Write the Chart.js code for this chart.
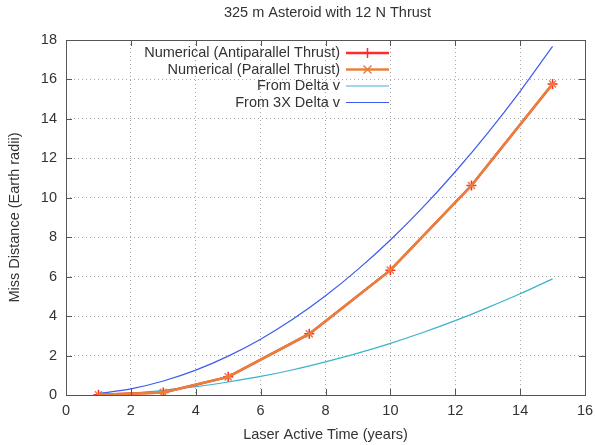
<!DOCTYPE html>
<html>
<head>
<meta charset="utf-8">
<script src="https://cdn.jsdelivr.net/npm/chart.js"></script>
<style>
  html, body { margin: 0; padding: 0; background: #fff; }
  #wrap { width: 595px; height: 445px; }
</style>
</head>
<body>
<div id="wrap"><canvas id="missChart"></canvas></div>
<script>
// Numerical runs (years of laser activity -> miss distance in Earth radii)
const numTimes = [1, 3, 5, 7.5, 10, 12.5, 15];
const antiparallel = [0.01, 0.13, 0.92, 3.10, 6.33, 10.62, 15.77];
const parallel = [0.01, 0.13, 0.92, 3.10, 6.33, 10.62, 15.77];

// Analytic curves
const curveTimes = [1, 2, 3, 4, 5, 6, 7, 8, 9, 10, 11, 12, 13, 14, 15];
const fromDeltaV = [0.03, 0.10, 0.24, 0.42, 0.66, 0.94, 1.28, 1.68, 2.12, 2.62, 3.17, 3.77, 4.43, 5.13, 5.89];
const from3xDeltaV = [0.08, 0.31, 0.71, 1.26, 1.97, 2.83, 3.85, 5.03, 6.37, 7.86, 9.51, 11.32, 13.28, 15.40, 17.68];

const xTicks = [0, 2, 4, 6, 8, 10, 12, 14, 16];
const yTicks = [0, 2, 4, 6, 8, 10, 12, 14, 16, 18];

const FONT = '"Liberation Sans", Arial, sans-serif';
const FSIZE = 14.5;
const TEXT = '#333333';

function pairs(xs, ys) {
    return xs.map(function(x, i) { return { x: x, y: ys[i] }; });
}

// Inward ticks on all four sides, full frame, title and legend (gnuplot look)
const framePlugin = {
    id: 'frame',
    afterDraw: function(chart) {
        const ctx = chart.ctx;
        const a = chart.chartArea;
        const xs = chart.scales.x;
        const ys = chart.scales.y;
        ctx.save();
        ctx.strokeStyle = '#555555';
        ctx.lineWidth = 1;
        ctx.beginPath();
        xTicks.forEach(function(v) {
            const px = Math.round(xs.getPixelForValue(v)) + 0.5;
            ctx.moveTo(px, a.bottom); ctx.lineTo(px, a.bottom - 6);
            ctx.moveTo(px, a.top); ctx.lineTo(px, a.top + 6);
        });
        yTicks.forEach(function(v) {
            const py = Math.round(ys.getPixelForValue(v)) + 0.5;
            ctx.moveTo(a.left, py); ctx.lineTo(a.left + 6, py);
            ctx.moveTo(a.right, py); ctx.lineTo(a.right - 6, py);
        });
        ctx.stroke();
        ctx.strokeRect(Math.round(a.left) + 0.5, Math.round(a.top) + 0.5,
            Math.round(a.right - a.left), Math.round(a.bottom - a.top));

        // title
        ctx.fillStyle = TEXT;
        ctx.font = FSIZE + 'px ' + FONT;
        ctx.textAlign = 'center';
        ctx.textBaseline = 'middle';
        ctx.fillText('325 m Asteroid with 12 N Thrust', (a.left + a.right) / 2 + 2, 13);

        // legend
        const rows = chart.data.datasets;
        ctx.textAlign = 'right';
        rows.forEach(function(ds, i) {
            const y = 53 + i * 16.5;
            ctx.fillStyle = TEXT;
            ctx.fillText(ds.label, 340, y);
            ctx.strokeStyle = ds.borderColor;
            ctx.lineWidth = ds.borderWidth;
            ctx.beginPath();
            ctx.moveTo(346, y); ctx.lineTo(389, y);
            ctx.stroke();
            if (ds.pointStyle === 'cross') {
                ctx.lineWidth = 1.5;
                ctx.beginPath();
                ctx.moveTo(367.5, y - 5); ctx.lineTo(367.5, y + 5);
                ctx.moveTo(362.5, y); ctx.lineTo(372.5, y);
                ctx.stroke();
            } else if (ds.pointStyle === 'crossRot') {
                ctx.lineWidth = 1.5;
                ctx.beginPath();
                ctx.moveTo(363.5, y - 4); ctx.lineTo(371.5, y + 4);
                ctx.moveTo(363.5, y + 4); ctx.lineTo(371.5, y - 4);
                ctx.stroke();
            }
        });
        ctx.restore();
    }
};

document.addEventListener('DOMContentLoaded', function() {
    const ctx = document.getElementById('missChart').getContext('2d');

    new Chart(ctx, {
        type: 'line',
        data: {
            datasets: [
                {
                    label: 'Numerical (Antiparallel Thrust)',
                    data: pairs(numTimes, antiparallel),
                    borderColor: '#ff2a2a',
                    backgroundColor: '#ff2a2a',
                    borderWidth: 2.5,
                    pointStyle: 'cross',
                    pointRadius: 5,
                    pointBorderWidth: 1.5,
                    tension: 0,
                    order: 2
                },
                {
                    label: 'Numerical (Parallel Thrust)',
                    data: pairs(numTimes, parallel),
                    borderColor: '#e8803c',
                    backgroundColor: '#e8803c',
                    borderWidth: 2.5,
                    pointStyle: 'crossRot',
                    pointRadius: 5,
                    pointBorderWidth: 1.5,
                    tension: 0,
                    order: 1
                },
                {
                    label: 'From Delta v',
                    data: pairs(curveTimes, fromDeltaV),
                    borderColor: '#3ab2cc',
                    borderWidth: 1.2,
                    pointRadius: 0,
                    cubicInterpolationMode: 'monotone',
                    order: 3
                },
                {
                    label: 'From 3X Delta v',
                    data: pairs(curveTimes, from3xDeltaV),
                    borderColor: '#3a5cf0',
                    borderWidth: 1.2,
                    pointRadius: 0,
                    cubicInterpolationMode: 'monotone',
                    order: 4
                }
            ]
        },
        options: {
            responsive: true,
            maintainAspectRatio: false,
            animation: false,
            layout: {
                padding: { top: 40, right: 0, left: 0, bottom: 0 }
            },
            scales: {
                x: {
                    type: 'linear',
                    min: 0,
                    max: 16,
                    afterBuildTicks: function(scale) {
                        scale.ticks = xTicks.map(function(v) { return { value: v }; });
                    },
                    afterFit: function(scale) {
                        scale.height = 50;
                        scale.paddingRight = 10;
                        scale.paddingLeft = 0;
                    },
                    grid: {
                        color: '#a8a8a8',
                        lineWidth: 1,
                        drawTicks: false
                    },
                    border: { display: false, dash: [1, 3] },
                    ticks: {
                        padding: 7,
                        color: TEXT,
                        font: { family: FONT, size: FSIZE },
                        maxRotation: 0
                    },
                    title: {
                        display: true,
                        text: 'Laser Active Time (years)',
                        color: TEXT,
                        font: { family: FONT, size: FSIZE },
                        padding: { top: 0, bottom: 1 }
                    }
                },
                y: {
                    min: 0,
                    max: 18,
                    afterBuildTicks: function(scale) {
                        scale.ticks = yTicks.map(function(v) { return { value: v }; });
                    },
                    afterFit: function(scale) { scale.width = 66; },
                    grid: {
                        color: '#a8a8a8',
                        lineWidth: 1,
                        drawTicks: false
                    },
                    border: { display: false, dash: [1, 3] },
                    ticks: {
                        padding: 9,
                        color: TEXT,
                        font: { family: FONT, size: FSIZE }
                    },
                    title: {
                        display: true,
                        text: 'Miss Distance (Earth radii)',
                        color: TEXT,
                        font: { family: FONT, size: FSIZE },
                        padding: { top: 6, bottom: 0 }
                    }
                }
            },
            plugins: {
                legend: { display: false },
                title: { display: false },
                tooltip: { enabled: false }
            }
        },
        plugins: [framePlugin]
    });
});
</script>
</body>
</html>
